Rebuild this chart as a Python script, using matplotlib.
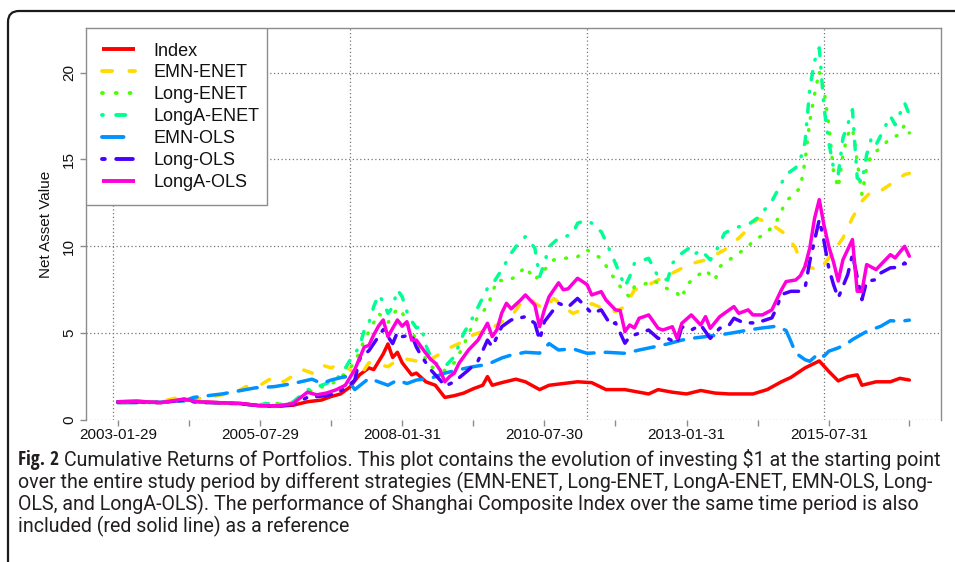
import matplotlib
matplotlib.use("Agg")
import matplotlib.pyplot as plt
from matplotlib.lines import Line2D
from matplotlib.patches import FancyBboxPatch, Rectangle
from matplotlib.transforms import IdentityTransform
from matplotlib import font_manager

# ---------------- data (month index, net asset value) ----------------
index_pts = [(1,1.05),(5,1.08),(10,1.0),(15,1.2),(18,1.05),(22,1.0),(27,0.95),(31,0.82),(35,0.8),(38,0.85),
             (41,1.05),(44,1.15),(46,1.35),(48,1.5),(50,1.9),(52,2.6),(54,3.0),(55,2.9),(57,3.8),(58,4.38),
             (59,3.6),(60,3.9),(61,3.3),(63,2.6),(64,2.7),(66,2.2),(68,2.0),(70,1.3),(72,1.4),(74,1.55),
             (76,1.8),(78,2.0),(79,2.5),(80,2.0),(82,2.15),(85,2.35),(87,2.2),(90,1.75),(92,2.0),(95,2.1),
             (98,2.2),(101,2.15),(104,1.75),(108,1.75),(111,1.6),(113,1.5),(115,1.75),(118,1.6),(121,1.5),
             (124,1.7),(127,1.55),(130,1.5),(135,1.5),(138,1.75),(141,2.2),(143,2.45),(146,3.0),(149,3.4),
             (151,2.8),(153,2.25),(155,2.5),(157,2.6),(158,2.0),(161,2.2),(164,2.2),(166,2.4),(168,2.3)]

emn_enet_pts = [(1,1.0),(5,1.0),(10,1.05),(13,1.25),(17,1.2),(22,1.4),(26,1.6),(28,1.92),(31,2.0),(34,2.5),
                (36,2.2),(40,2.9),(42,2.7),(44,3.17),(46,3.0),(48,3.27),(50,2.9),(52,2.5),(54,3.3),(56,3.2),
                (58,3.07),(60,3.45),(62,3.5),(64,3.4),(66,3.3),(67,3.5),(69,3.8),(70,4.03),(73,4.4),(75,4.8),
                (77,5.0),(80,5.3),(82,5.66),(84,5.95),(86,6.72),(88,7.0),(89,6.72),(91,6.4),(93,7.0),(95,6.53),
                (97,6.14),(99,6.34),(101,6.7),(104,6.34),(106,6.24),(108,6.53),(110,7.49),(113,7.78),(115,8.06),
                (118,8.45),(120,8.74),(122,9.0),(125,9.22),(127,9.5),(129,9.79),(132,10.47),(134,11.0),(136,11.6),
                (139,11.25),(142,10.68),(144,9.9),(145,9.14),(147,8.8),(149,8.6),(151,9.33),(154,10.48),
                (156,11.64),(158,12.6),(160,13.17),(162,13.2),(165,13.75),(167,14.13),(168,14.2)]

long_enet_pts = [(1,1.05),(5,1.05),(10,1.0),(15,1.15),(20,1.0),(25,0.95),(30,0.85),(33,1.0),(36,0.9),(38,1.0),
                 (41,1.6),(44,1.9),(47,2.2),(49,2.7),(51,3.3),(53,4.6),(55,5.6),(56,6.14),(57,5.9),(58,5.6),
                 (60,6.43),(61,6.2),(62,5.6),(64,4.6),(65,3.93),(67,3.07),(69,2.9),(70,2.85),(72,3.3),(74,4.3),
                 (75,5.0),(77,5.95),(79,6.53),(81,8.06),(83,8.0),(85,8.25),(87,8.83),(89,8.06),(90,8.4),(91,8.64),
                 (93,9.22),(95,9.3),(98,9.4),(100,9.8),(101,9.6),(103,9.31),(105,8.45),(106,8.06),(108,7.3),
                 (109,7.1),(110,7.68),(112,7.8),(114,8.06),(116,7.68),(119,7.3),(120,7.0),(121,7.78),(123,8.25),
                 (125,8.64),(127,8.06),(128,8.83),(130,9.22),(132,9.6),(134,9.98),(135,10.3),(138,10.8),
                 (140,11.45),(142,12.6),(145,13.36),(146,14.9),(147,17.2),(148,18.74),(149,20.08),(150,19.0),
                 (151,17.0),(152,14.32),(153,13.36),(154,15.28),(155,16.43),(156,16.82),(157,14.9),(158,12.98),
                 (159,14.52),(160,15.28),(162,15.67),(164,16.24),(166,16.43),(167,17.01),(168,16.53)]

longa_enet_pts = [(1,1.05),(5,1.05),(10,1.0),(15,1.15),(20,1.0),(25,0.95),(30,0.85),(33,0.95),(36,0.9),(38,1.05),
                  (41,1.73),(44,2.0),(47,2.3),(49,2.98),(50,3.45),(52,4.22),(53,5.18),(54,5.6),(55,6.53),(56,7.2),
                  (57,6.82),(58,6.14),(59,6.5),(60,7.49),(61,7.1),(62,6.24),(63,5.7),(64,5.3),(65,5.4),(66,4.3),
                  (67,3.65),(68,3.27),(70,3.07),(72,3.65),(74,5.0),(76,5.95),(77,6.5),(79,7.59),(80,7.8),(82,8.64),
                  (84,9.6),(85,9.98),(87,10.56),(89,9.9),(90,8.25),(91,9.02),(92,9.98),(94,10.47),(95,10.5),
                  (97,10.75),(98,11.33),(100,11.52),(101,11.33),(102,11.0),(103,10.85),(104,10.27),(106,9.02),
                  (108,7.68),(109,8.25),(110,9.02),(112,9.22),(113,9.31),(115,8.25),(117,8.06),(118,9.02),
                  (120,9.6),(122,9.98),(123,9.6),(124,9.79),(126,9.22),(127,9.6),(129,10.75),(131,11.06),
                  (134,11.25),(136,11.64),(139,12.6),(142,14.13),(144,14.52),(145,15.0),(146,16.0),(147,19.1),
                  (148,20.66),(149,21.43),(150,18.0),(151,16.0),(152,14.52),(153,14.13),(154,16.24),(155,17.01),
                  (156,17.87),(157,13.94),(158,13.7),(159,15.28),(160,16.24),(161,15.86),(162,16.4),(164,17.5),
                  (165,17.0),(167,18.26),(168,17.59)]

emn_ols_pts = [(1,1.0),(5,1.0),(10,1.02),(15,1.1),(17,1.3),(20,1.4),(23,1.5),(27,1.7),(30,1.85),(34,1.92),
               (38,2.1),(42,2.35),(44,2.1),(46,2.3),(49,2.5),(51,1.75),(54,2.4),(56,2.2),(58,2.0),(60,2.3),
               (62,2.1),(64,2.3),(67,2.4),(70,2.7),(73,2.9),(76,3.07),(79,3.2),(82,3.57),(84,3.74),(87,3.9),
               (90,3.85),(92,4.4),(94,4.03),(97,4.1),(100,3.84),(104,3.9),(108,3.84),(111,4.03),(114,4.2),
               (117,4.38),(120,4.6),(122,4.7),(125,4.8),(128,4.9),(131,5.03),(134,5.18),(137,5.3),(140,5.4),
               (142,5.15),(143,4.53),(144,3.86),(146,3.47),(147,3.38),(149,3.86),(150,3.67),(151,3.96),
               (153,4.15),(155,4.43),(156,4.63),(159,5.1),(162,5.4),(164,5.72),(166,5.68),(168,5.75)]

long_ols_pts = [(1,1.05),(5,1.05),(10,1.0),(15,1.15),(18,1.0),(22,1.0),(27,0.93),(31,0.82),(35,0.8),(38,0.9),
                (41,1.3),(45,1.4),(47,1.55),(49,1.8),(51,2.3),(52,3.5),(54,4.0),(56,4.8),(57,5.2),(59,4.4),
                (60,5.05),(61,4.8),(63,4.9),(64,4.2),(65,3.7),(67,2.9),(69,2.3),(70,1.95),(72,2.2),(75,2.88),
                (77,3.4),(79,4.6),(80,4.22),(82,5.37),(84,5.76),(87,5.95),(89,5.57),(90,4.6),(91,5.66),(94,6.72),
                (96,6.5),(98,7.0),(99,6.72),(101,6.14),(103,6.34),(105,5.47),(106,5.6),(108,4.42),(109,4.8),
                (111,5.0),(113,5.18),(115,4.7),(117,4.7),(119,4.42),(120,5.37),(122,5.18),(124,5.47),(126,4.7),
                (128,5.28),(130,5.47),(131,5.86),(133,5.6),(135,5.59),(137,5.7),(139,5.88),(140,6.45),(141,7.22),
                (143,7.41),(145,7.41),(146,7.6),(147,9.14),(149,11.54),(150,10.3),(151,8.76),(152,7.8),(153,7.03),
                (155,8.37),(156,9.52),(158,6.93),(159,7.99),(161,8.08),(162,8.47),(164,8.76),(166,8.8),(167,9.04),
                (168,8.76)]

longa_ols_pts = [(1,1.05),(5,1.08),(10,1.0),(15,1.2),(18,1.05),(22,1.0),(27,0.95),(31,0.82),(35,0.82),(38,0.95),
                 (41,1.6),(43,1.45),(45,1.55),(47,1.73),(49,2.0),(51,2.9),(53,4.2),(54,4.3),(55,4.9),(56,5.4),
                 (57,5.76),(58,4.8),(60,5.76),(61,5.4),(62,5.66),(63,4.6),(64,4.6),(66,3.84),(67,3.5),(68,3.27),
                 (69,2.88),(70,2.2),(71,2.5),(72,2.7),(73,3.27),(75,4.03),(77,4.6),(79,5.57),(80,4.8),(81,5.2),
                 (82,6.15),(83,6.72),(84,6.4),(86,6.91),(87,7.2),(89,6.62),(90,5.37),(91,6.34),(92,7.1),(94,7.9),
                 (95,7.5),(96,7.55),(98,8.16),(100,7.8),(101,7.2),(103,7.39),(104,6.91),(106,6.34),(107,6.3),
                 (108,5.09),(109,5.47),(110,5.3),(111,5.86),(112,5.95),(113,6.05),(115,5.28),(116,5.18),(118,5.37),
                 (119,4.7),(120,5.57),(122,6.05),(124,5.47),(125,5.95),(126,5.28),(128,5.95),(130,6.34),(131,6.53),
                 (132,6.14),(134,6.34),(135,6.05),(137,6.05),(139,6.34),(140,6.91),(141,7.49),(142,7.97),(144,8.06),
                 (145,8.3),(146,8.85),(147,9.9),(148,11.6),(149,12.69),(150,11.2),(151,10.0),(152,9.1),(153,8.0),
                 (154,9.23),(156,10.39),(157,7.41),(158,7.41),(159,8.95),(161,8.66),(162,8.95),(164,9.52),
                 (165,9.33),(167,10.0),(168,9.43)]

series_names = ["Index", "EMN-ENET", "Long-ENET", "LongA-ENET", "EMN-OLS", "Long-OLS", "LongA-OLS"]
series_data = [index_pts, emn_enet_pts, long_enet_pts, longa_enet_pts, emn_ols_pts, long_ols_pts, longa_ols_pts]
series_colors = ["#FF0000", "#FFDB00", "#49FF00", "#00FF92", "#0092FF", "#4900FF", "#FF00DB"]

tick_positions = [1, 16, 31, 46, 61, 76, 91, 106, 121, 136, 151, 168]
tick_labels = ["2003-01-29", "", "2005-07-29", "", "2008-01-31", "", "2010-07-30", "",
               "2013-01-31", "", "2015-07-31", ""]
y_ticks = [0, 5, 10, 15, 20]

caption_bold = "Fig. 2"
caption_lines = ["Cumulative Returns of Portfolios. This plot contains the evolution of investing $1 at the starting point",
                 "over the entire study period by different strategies (EMN-ENET, Long-ENET, LongA-ENET, EMN-OLS, Long-",
                 "OLS, and LongA-OLS). The performance of Shanghai Composite Index over the same time period is also",
                 "included (red solid line) as a reference"]

# ---------------- styles ----------------
LW = 2.5                      # points
LW_PX = LW * 100 / 72
# visible dash / gap lengths in pixels (R lty 1..6 look), converted for round caps
vis_patterns = [None, (12.5, 12), (4.3, 8), (4.3, 8.3, 11.7, 8.3), (22.7, 7.7), (6, 6.7, 18.3, 6.7), None]

def to_dashes(p):
    if p is None:
        return None
    out = []
    for k, v in enumerate(p):
        if k % 2 == 0:
            out.append(max(v - LW_PX, 0.6) / LW_PX)
        else:
            out.append((v + LW_PX) / LW_PX)
    return tuple(out)

dash_styles = [to_dashes(p) for p in vis_patterns]
GREY = "#8c8c8c"

W, H = 955, 562
fig = plt.figure(figsize=(W / 100, H / 100), dpi=100)
plt.rcParams['font.family'] = ['Liberation Sans', 'DejaVu Sans']

# figure frame (rounded box)
frame = FancyBboxPatch((8, -60), 1100, 562 - 11 + 60, boxstyle="round,pad=0,rounding_size=11",
                       transform=IdentityTransform(), fill=False, ec="#1a1a1a", lw=1.6)
fig.add_artist(frame)

ax = fig.add_axes([86 / W, 1 - 420 / H, (941 - 86) / W, (420 - 28) / H])
ax.set_xlim(-5.70, 174.68)
ax.set_ylim(0, 22.57)

# grid
for gx in [0, 50, 100, 150]:
    ax.axvline(gx, color="#777777", lw=0.9, ls=(0, (1, 2)), zorder=1)
for gy in y_ticks:
    ax.axhline(gy, color="#777777", lw=0.9, ls=(0, (1, 2)), zorder=1)

handles = []
for name, pts, col, ds in zip(series_names, series_data, series_colors, dash_styles):
    xs = [p[0] for p in pts]
    ys = [p[1] for p in pts]
    kw = dict(color=col, lw=LW, solid_capstyle="round", dash_capstyle="round", solid_joinstyle="round")
    if ds is not None:
        ax.plot(xs, ys, dashes=ds, zorder=3, **kw)
    else:
        ax.plot(xs, ys, zorder=3, **kw)
    handles.append(Line2D([], [], color=col, lw=LW + 0.3, dashes=ds if ds else (None, None),
                          dash_capstyle="round", solid_capstyle="butt"))

for s in ["left", "top", "right"]:
    ax.spines[s].set_color(GREY)
    ax.spines[s].set_linewidth(1.0)
ax.spines["bottom"].set_visible(False)

ax.set_xticks(tick_positions)
ax.set_xticklabels(tick_labels, fontsize=11, color="#111111")
ax.set_yticks(y_ticks)
ax.set_yticklabels([str(v) for v in y_ticks], fontsize=11, rotation=90, va="center", color="#111111")
ax.tick_params(axis="both", color=GREY, length=4, width=1.0, pad=2)
ax.tick_params(axis="y", pad=3)
ax.set_ylabel("Net Asset Value", fontsize=11, color="#111111", labelpad=7)

# legend: box drawn as a rectangle, entries placed inside
leg_box = Rectangle((86 / W, 1 - 205 / H), (267 - 86) / W, (205 - 28) / H, transform=fig.transFigure,
                    facecolor="white", edgecolor=GREY, lw=1.0, zorder=4.5)
ax.add_artist(leg_box)
LEG_FS = 13
fs_px = LEG_FS * 100 / 72
bp = 0.5
leg = ax.legend(handles, series_names, loc="upper left",
                bbox_to_anchor=((102 - bp * fs_px) / W, 1 - 33.5 / H), bbox_transform=fig.transFigure,
                borderaxespad=0, fontsize=LEG_FS, frameon=False,
                handlelength=1.83, handletextpad=1.0, labelspacing=0.275, borderpad=bp)
leg.set_zorder(5)
for t in leg.get_texts():
    t.set_color("#111111")

# ---------------- caption ----------------
available = {f.name for f in font_manager.fontManager.ttflist}
bold_font = [f for f in ['Open Sans Condensed', 'Liberation Sans'] if f in available] + ['DejaVu Sans']
body_font = [f for f in ['Roboto', 'Liberation Sans'] if f in available] + ['DejaVu Sans']
cap_color = "#231f20"
line_y = [460, 482, 504, 526]
x0 = 18
max_w = 946 - x0
renderer = fig.canvas.get_renderer()

def widest_line(size):
    tb = fig.text(0, 0, caption_bold, family=bold_font, fontsize=size, weight="bold")
    wb = tb.get_window_extent(renderer=renderer).width
    tb.remove()
    ws = []
    for k, txt in enumerate(caption_lines):
        t = fig.text(0, 0, txt, family=body_font, fontsize=size)
        w = t.get_window_extent(renderer=renderer).width
        t.remove()
        ws.append(w + (wb + 5 if k == 0 else 0))
    return max(ws)

cap_size = 14.0
cap_size = cap_size * max_w / widest_line(cap_size)

bold = fig.text(x0 / W, 1 - line_y[0] / H, caption_bold, family=bold_font, fontsize=cap_size, weight="bold",
                color=cap_color, va="center", ha="left")
ext = bold.get_window_extent(renderer=renderer)
for k, (txt, yy) in enumerate(zip(caption_lines, line_y)):
    xx = (ext.x1 + 5) if k == 0 else x0
    fig.text(xx / W, 1 - yy / H, txt, family=body_font, fontsize=cap_size, color=cap_color,
             va="center", ha="left")

fig.savefig("out.png", dpi=100)
